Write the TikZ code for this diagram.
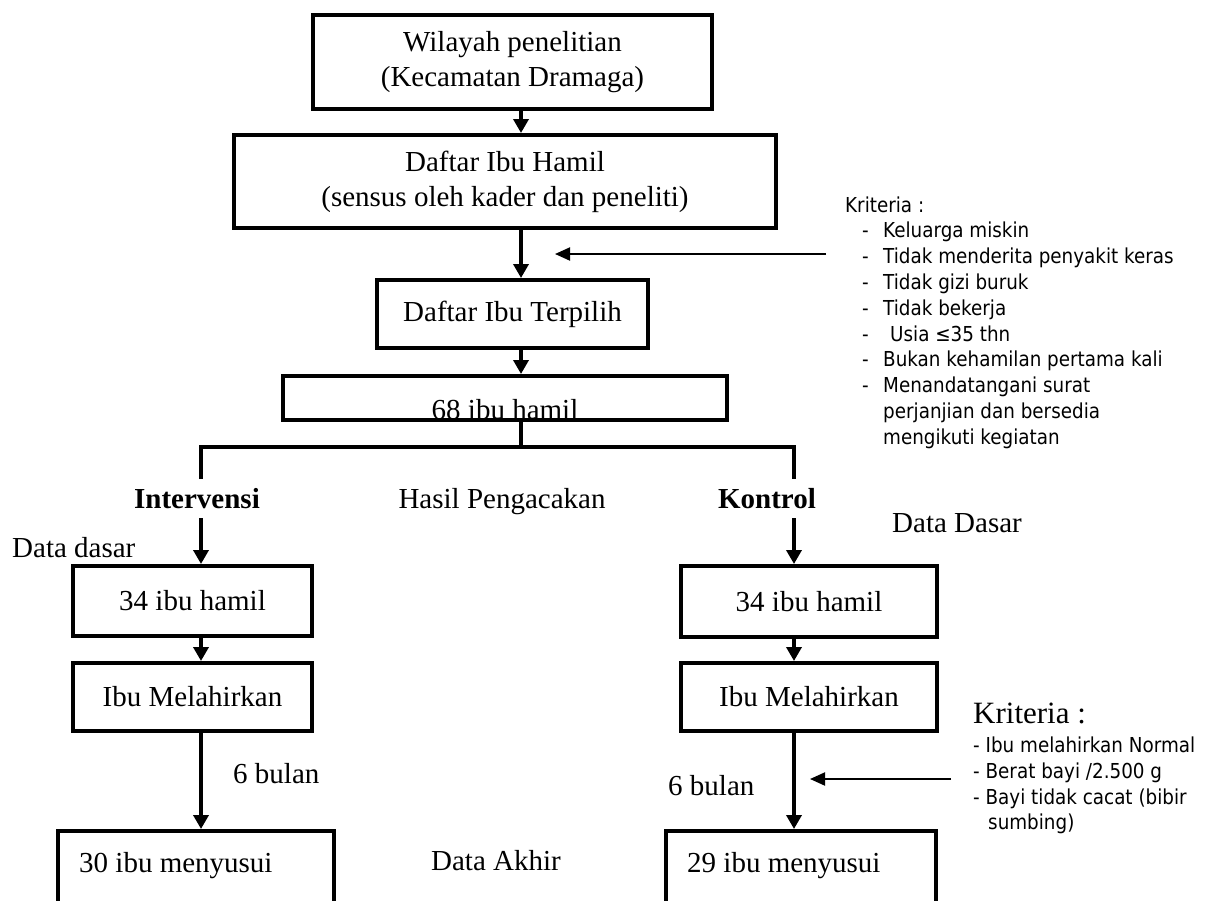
\documentclass[tikz,border=0pt]{standalone}
\usepackage{fontspec}
\setmainfont{Liberation Serif}
\newfontfamily\critfont[FakeStretch=0.89]{DejaVu Sans}
\usetikzlibrary{arrows.meta}
\tikzset{
  box/.style={draw, line width=4pt, inner sep=0pt, align=center, font=\fontsize{29}{35}\selectfont},
  arr/.style={line width=4pt, -{Triangle[width=15pt,length=14pt]}},
  thinarr/.style={line width=2pt, -{Triangle[width=13pt,length=15pt]}},
  lbl/.style={inner sep=0pt, font=\fontsize{29}{35}\selectfont},
  crit/.style={inner sep=0pt, anchor=base west, font=\critfont\fontsize{20.6}{25.8}\selectfont},
}
\begin{document}
\begin{tikzpicture}[x=1pt,y=-1pt]
\path[use as bounding box] (0,0) rectangle (1214,900);
\clip (0,0) rectangle (1214,900);

% main column boxes
\node[box, minimum width=399pt, minimum height=94pt] (b1) at (512.5,62) {Wilayah penelitian\\(Kecamatan Dramaga)};
\node[box, minimum width=542pt, minimum height=93pt] (b2) at (505,181.5) {Daftar Ibu Hamil\\(sensus oleh kader dan peneliti)};
\node[box, minimum width=271pt, minimum height=68pt] (b3) at (512.5,314) {Daftar Ibu Terpilih};
\node[lbl, anchor=base] (t4) at (505,419) {68 ibu hamil};
\node[box, minimum width=444pt, minimum height=44pt] (b4) at (505,398) {};

% branch coordinates
\coordinate (cx) at (521,0);
\coordinate (jM) at (521,447);
\coordinate (jL) at (201,447);
\coordinate (jR) at (794,447);
\coordinate (jLe) at (201,479);
\coordinate (jRe) at (794,479);
\coordinate (aL) at (201,518);
\coordinate (aR) at (794,518);

\draw[arr] (b1.south -| cx) -- (b2.north -| cx);
\draw[arr] (b2.south -| cx) -- (b3.north -| cx);
\draw[arr] (b3.south -| cx) -- (b4.north -| cx);
\draw[line width=4pt] (b4.south -| cx) -- (jM);
\draw[line width=4pt] (jLe) -- (jL) -- (jR) -- (jRe);

% labels of the split
\node[lbl, font=\fontsize{29}{35}\selectfont\bfseries, anchor=base] (lint) at (197,508) {Intervensi};
\node[lbl, anchor=base] (lhas) at (502,508) {Hasil Pengacakan};
\node[lbl, font=\fontsize{29}{35}\selectfont\bfseries, anchor=base] (lkon) at (767,508) {Kontrol};
\node[lbl, anchor=base west] (ldd) at (12,557) {Data dasar};
\node[lbl, anchor=base west] (ldD) at (892,532) {Data Dasar};

% left column
\node[box, minimum width=239pt, minimum height=70pt] (l1) at (192.5,601) {34 ibu hamil};
\node[box, minimum width=239pt, minimum height=68pt] (l2) at (192.5,697) {Ibu Melahirkan};
\node[box, minimum width=276pt, minimum height=119pt] (l3) at (196,890.5) {};
\draw[arr] (aL) -- (l1.north -| aL);
\draw[arr] (l1.south -| aL) -- (l2.north -| aL);
\draw[arr] (l2.south -| aL) -- (l3.north -| aL);
\node[lbl, anchor=base west] (l6) at (233,783) {6 bulan};
\node[lbl, anchor=base west] (l3t) at (79,872) {30 ibu menyusui};

% right column
\node[box, minimum width=256pt, minimum height=71pt] (r1) at (809,601.5) {34 ibu hamil};
\node[box, minimum width=256pt, minimum height=68pt] (r2) at (809,697) {Ibu Melahirkan};
\node[box, minimum width=270pt, minimum height=119pt] (r3) at (801,890.5) {};
\draw[arr] (aR) -- (r1.north -| aR);
\draw[arr] (r1.south -| aR) -- (r2.north -| aR);
\draw[arr] (r2.south -| aR) -- (r3.north -| aR);
\node[lbl, anchor=base west] (r6) at (668,795) {6 bulan};
\node[lbl, anchor=base west] (r3t) at (687,872) {29 ibu menyusui};

\node[lbl, anchor=base] (akhir) at (496,870) {Data Akhir};

% criteria 1
\coordinate (k1s) at (826,254);
\coordinate (k1e) at (555,254);
\draw[thinarr] (k1s) -- (k1e);
\node[crit] (k1) at (845,212) {Kriteria :};
\foreach \yy/\txt [count=\i] in {237.8/Keluarga miskin, 263.6/Tidak menderita penyakit keras, 289.4/Tidak gizi buruk, 315.2/Tidak bekerja, 341/{\hspace*{7pt}Usia ≤35 thn}, 366.8/Bukan kehamilan pertama kali, 392.6/Menandatangani surat}{
  \node[crit] (kd\i) at (862,\yy) {-};
  \node[crit] (kt\i) at (883,\yy) {\txt};
}
\node[crit] (kt8) at (883,418.4) {perjanjian dan bersedia};
\node[crit] (kt9) at (883,444.2) {mengikuti kegiatan};

% criteria 2
\coordinate (k2s) at (951,779);
\coordinate (k2e) at (810,779);
\draw[thinarr] (k2s) -- (k2e);
\node[lbl, font=\fontsize{31}{35}\selectfont, anchor=base west] (k2) at (973,723) {Kriteria :};
\node[crit] (m1) at (973,752) {- Ibu melahirkan Normal};
\node[crit] (m2) at (973,778) {- Berat bayi /2.500 g};
\node[crit] (m3) at (973,804) {- Bayi tidak cacat (bibir};
\node[crit] (m4) at (988,829) {sumbing)};
\end{tikzpicture}
\end{document}
